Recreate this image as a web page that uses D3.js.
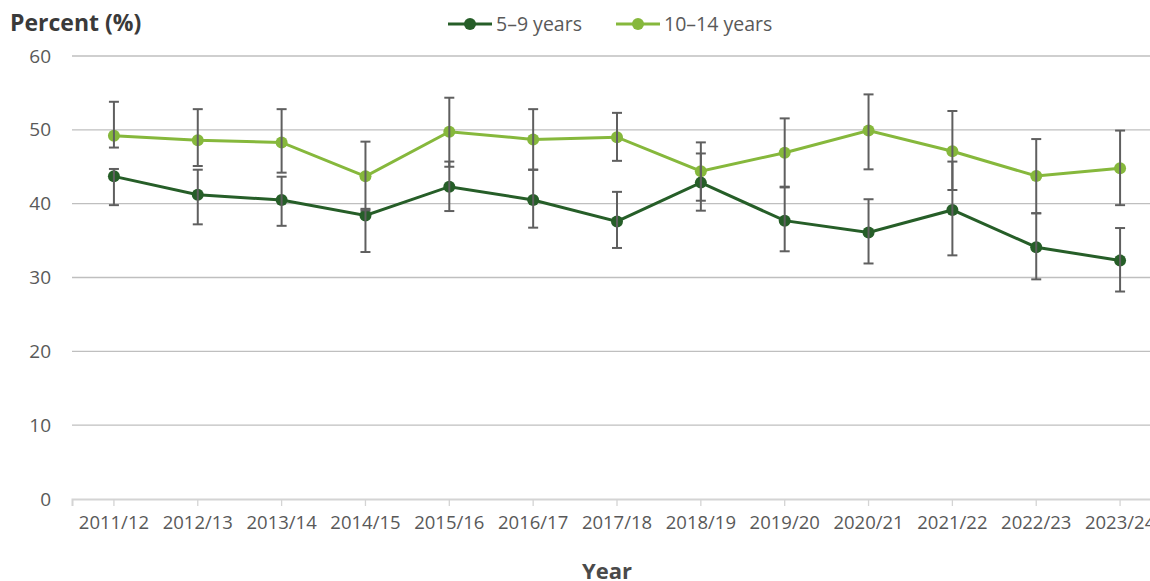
<!DOCTYPE html>
<html>
<head>
<meta charset="utf-8">
<script src="https://cdn.jsdelivr.net/npm/d3@7"></script>
<style>
  html, body { margin: 0; padding: 0; background: #fff; }
  svg { display: block; font-family: "Open Sans", sans-serif; }
</style>
</head>
<body>
<svg id="chart" width="1150" height="581"></svg>
<script>
const years = ["2011/12","2012/13","2013/14","2014/15","2015/16","2016/17","2017/18","2018/19","2019/20","2020/21","2021/22","2022/23","2023/24"];
const yTicks = [0, 10, 20, 30, 40, 50, 60];

const young = [43.7, 41.2, 40.5, 38.4, 42.3, 40.5, 37.6, 42.85, 37.7, 36.1, 39.15, 34.1, 32.3];
const youngLow = [39.8, 37.2, 37.0, 33.45, 39.0, 36.75, 34.0, 39.05, 33.55, 31.9, 33.0, 29.75, 28.1];
const youngHigh = [44.7, 44.6, 43.65, 39.3, 45.7, 44.6, 41.6, 46.8, 42.2, 40.6, 45.7, 38.7, 36.7];

const older = [49.2, 48.6, 48.3, 43.7, 49.75, 48.7, 49.0, 44.4, 46.9, 49.9, 47.1, 43.75, 44.8];
const olderLow = [47.6, 45.1, 44.2, 39.1, 45.0, 44.6, 45.8, 40.4, 42.3, 44.65, 41.85, 38.7, 39.8];
const olderHigh = [53.8, 52.8, 52.8, 48.4, 54.35, 52.8, 52.3, 48.3, 51.55, 54.8, 52.55, 48.75, 49.9];

const seriesNames = ["5–9 years", "10–14 years"];
const colors = ["#265e28", "#86b83c"];

const series = [
  { name: seriesNames[0], color: colors[0], values: young, low: youngLow, high: youngHigh },
  { name: seriesNames[1], color: colors[1], values: older, low: olderLow, high: olderHigh }
];

const svg = d3.select("#chart");
const mLeft = 72, mRight = 1162, mTop = 56, mBottom = 499;

const x = d3.scaleBand().domain(years).range([mLeft, mRight]).padding(0);
const cx = d => x(d) + x.bandwidth() / 2;
const y = d3.scaleLinear().domain([0, 60]).range([mBottom, mTop]);

// gridlines
svg.append("g").selectAll("line").data(yTicks.filter(t => t > 0)).join("line")
  .attr("x1", mLeft).attr("x2", 1150)
  .attr("y1", d => y(d)).attr("y2", d => y(d))
  .attr("stroke", "#bfbfbf").attr("stroke-width", 1.3);

// y labels
svg.append("g").selectAll("text").data(yTicks).join("text")
  .attr("x", 51).attr("y", d => y(d)).attr("dy", "0.35em")
  .attr("text-anchor", "end").attr("font-size", 19).attr("fill", "#595959")
  .text(d => d);

// x axis
const xAxis = d3.axisBottom(x).tickSize(7).tickPadding(10);
const gx = svg.append("g").attr("transform", `translate(0,${mBottom})`).call(xAxis);
gx.select(".domain").attr("stroke", "#d4d4d4").attr("stroke-width", 2);
gx.selectAll(".tick line").attr("stroke", "#d4d4d4").attr("stroke-width", 1.3);
gx.selectAll(".tick text").attr("font-size", 18.5).attr("fill", "#595959")
  .attr("font-family", "Open Sans, sans-serif");

// titles
svg.append("text").attr("x", 10).attr("y", 31).attr("font-size", 23).attr("font-weight", "bold")
  .attr("fill", "#3a3a3a").text("Percent (%)");
svg.append("text").attr("x", 607).attr("y", 579).attr("text-anchor", "middle").attr("font-size", 22)
  .attr("font-weight", "bold").attr("fill", "#4a4a4a").text("Year");

// lines
const line = d3.line().x((d, i) => cx(years[i])).y(d => y(d));
series.forEach(s => {
  svg.append("path").datum(s.values).attr("d", line)
    .attr("fill", "none").attr("stroke", s.color).attr("stroke-width", 3);
});

// markers
series.forEach(s => {
  svg.append("g").selectAll("circle").data(s.values).join("circle")
    .attr("cx", (d, i) => cx(years[i])).attr("cy", d => y(d)).attr("r", 6)
    .attr("fill", s.color);
});

// error bars
const errColor = "#5f5f5f";
series.forEach(s => {
  const g = svg.append("g");
  s.values.forEach((v, i) => {
    const xc = cx(years[i]);
    g.append("line").attr("x1", xc).attr("x2", xc).attr("y1", y(s.low[i])).attr("y2", y(s.high[i]))
      .attr("stroke", errColor).attr("stroke-width", 2);
    [s.low[i], s.high[i]].forEach(e => {
      g.append("line").attr("x1", xc - 5).attr("x2", xc + 5).attr("y1", y(e)).attr("y2", y(e))
        .attr("stroke", errColor).attr("stroke-width", 2);
    });
  });
});

// legend
const legendX = [448, 616];
const leg = svg.append("g");
series.forEach((s, i) => {
  const lx = legendX[i];
  leg.append("line").attr("x1", lx).attr("x2", lx + 44).attr("y1", 24).attr("y2", 24)
    .attr("stroke", s.color).attr("stroke-width", 3);
  leg.append("circle").attr("cx", lx + 22).attr("cy", 24).attr("r", 6).attr("fill", s.color);
  leg.append("text").attr("x", lx + 48).attr("y", 24).attr("dy", "0.35em")
    .attr("font-size", 19.5).attr("fill", "#595959").text(s.name);
});
</script>
</body>
</html>
